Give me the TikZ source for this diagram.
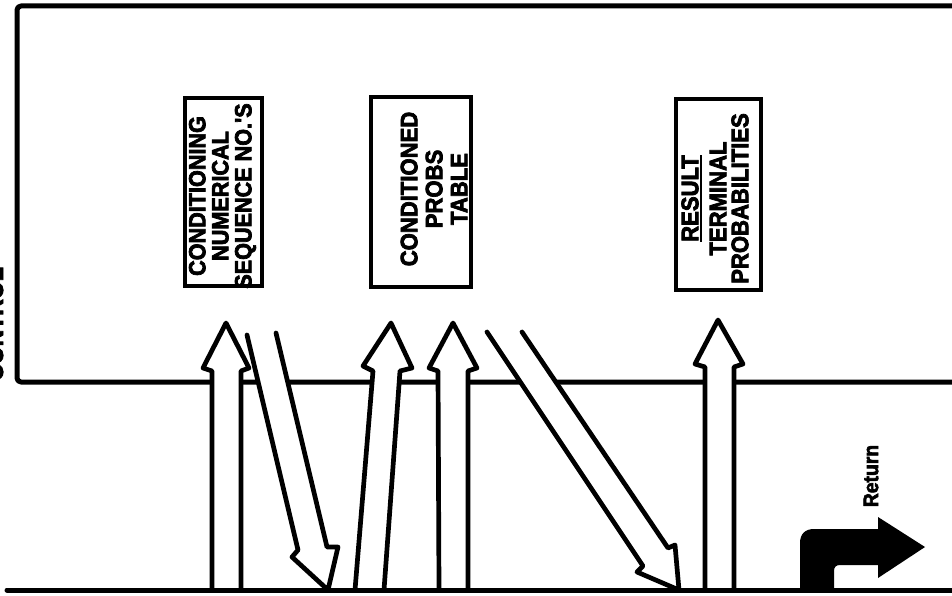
\documentclass[tikz,border=0pt]{standalone}
\usepackage{fontspec}
\setmainfont{Liberation Sans}
\newfontfamily\heavy{Liberation Sans}[FakeStretch=0.92, FakeBold=3]
\newcommand\ulword[1]{\leavevmode\vtop{\hbox{#1}\kern1.5pt\hrule height 2.4pt}}
\begin{document}
\begin{tikzpicture}[x=1pt,y=-1pt,
  frame/.style={line width=5pt, line join=round, line cap=round},
  box/.style={draw, line width=4pt, rectangle, inner sep=0pt},
  blk/.style={draw, fill=white, line width=4.7pt, line join=round, line cap=round},
  btxt/.style={rotate=90, align=center, inner sep=0pt, font=\heavy\bfseries\fontsize{24}{25}\selectfont}]
\useasboundingbox (0,0) rectangle (952,596);
\node[rotate=90, anchor=base, inner sep=0pt, font=\heavy\bfseries\fontsize{25}{25}\selectfont] (ctl) at (3,324) {CONTROL};
\draw[frame, rounded corners=4pt] (960,6) -- (17,6) -- (17,382) -- (960,382);
\node[box, minimum width=77pt, minimum height=188pt] (b1) at (223.5,192) {};
\node[box, minimum width=100pt, minimum height=190pt] (b2) at (421,192) {};
\node[box, minimum width=85pt, minimum height=191pt] (b3) at (718,194.5) {};
\node[btxt, font=\heavy\bfseries\fontsize{23.5}{23}\selectfont] (t1) at (222.5,196) {CONDITIONING\\NUMERICAL\\SEQUENCE NO.'S};
\node[btxt] (t2) at (434,189) {CONDITIONED\\PROBS\\TABLE};
\node[btxt] (t3) at (715,198.5) {\ulword{RESULT}\\[3pt]TERMINAL\\[-3pt]PROBABILITIES};
% block arrows
\draw[blk] (212,590) -- (212,371) -- (203,368) -- (226,323) -- (249,368) -- (241,371) -- (241,590);
\draw[blk] (247,335) -- (298,550) -- (292,557) -- (328,590) -- (338,547) -- (327,547) -- (276,333);
\draw[blk] (355,590) -- (373,371) -- (363,366) -- (391,323) -- (412,368) -- (400,371) -- (384,590);
\draw[blk] (439,590) -- (438,371) -- (429,368) -- (453,323) -- (477,368) -- (468,371) -- (468,590);
\draw[blk] (487,332) -- (643,566) -- (637,572) -- (679,590) -- (675,545) -- (668,548) -- (522,332);
\draw[blk] (705,590) -- (705,367) -- (695,364) -- (718,320) -- (743,364) -- (734,367) -- (734,590);
\draw[frame] (7,590) -- (960,590);
% return arrow
\fill (800,592) -- (800,543) .. controls (800,534) and (805,529) .. (814,529) -- (878,529) -- (878,517) -- (925,547) -- (878,578) -- (878,565) -- (840,565) .. controls (836,565) and (834,567) .. (834,571) -- (834,592) -- cycle;
\node[rotate=90, inner sep=0pt, font=\heavy\bfseries\fontsize{21}{21}\selectfont] (ret) at (871,476) {Return};
\end{tikzpicture}
\end{document}
